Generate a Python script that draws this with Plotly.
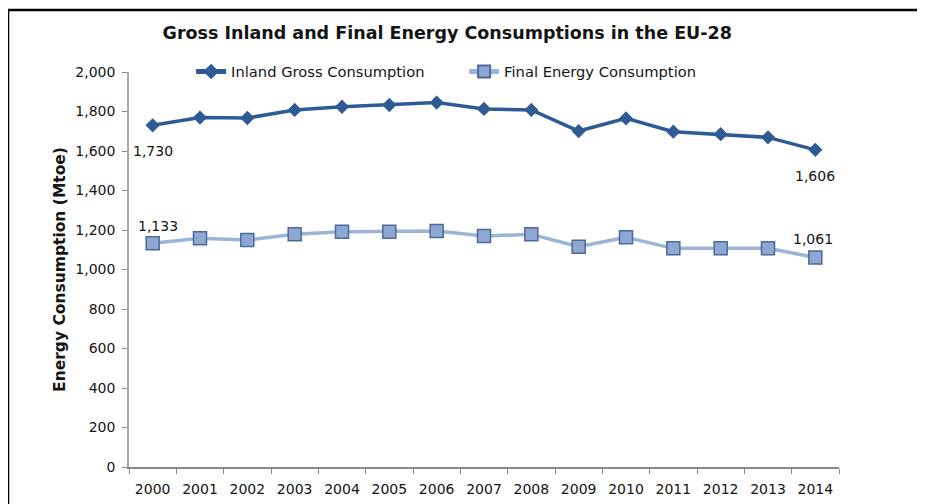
import plotly.graph_objects as go

years = [str(y) for y in range(2000, 2015)]
inland_gross = [1730, 1769, 1767, 1808, 1824, 1833, 1845, 1813, 1808, 1701, 1765, 1698, 1685, 1669, 1606]
final_energy = [1133, 1158, 1149, 1178, 1191, 1191, 1195, 1170, 1178, 1115, 1163, 1107, 1107, 1107, 1061]
y_ticks = list(range(0, 2001, 200))

FONT = "DejaVu Sans"
TXT = "#141414"

fig = go.Figure()
fig.add_trace(go.Scatter(
    x=years, y=inland_gross, name="Inland Gross Consumption", mode="lines+markers",
    line=dict(color="#2f5b95", width=3.5),
    marker=dict(symbol="diamond", size=11, color="#2f5b95"),
))
fig.add_trace(go.Scatter(
    x=years, y=final_energy, name="Final Energy Consumption", mode="lines+markers",
    line=dict(color="#9bb4d8", width=3.5),
    marker=dict(symbol="square", size=13, color="#8ea8d2", line=dict(color="#4a6a9c", width=1.5)),
))

# end-point labels (x given as category index)
last = len(years) - 1
labels = [
    (0, inland_gross[0], 0, -26),
    (last, inland_gross[-1], 0, -26),
    (0, final_energy[0], 5, 17),
    (last, final_energy[-1], -2, 18),
]
for x, y, dx, dy in labels:
    fig.add_annotation(x=x, y=y, text=f"{y:,}", showarrow=False, xshift=dx, yshift=dy,
                       font=dict(family=FONT, size=14, color=TXT))

# page body adds an 8px offset, so the figure is 8px smaller and margins shifted
fig.update_layout(
    width=917, height=496,
    margin=dict(l=121, r=86, t=64, b=37),
    paper_bgcolor="white", plot_bgcolor="white",
    font=dict(family=FONT, size=14, color=TXT),
    title=dict(text="<b>Gross Inland and Final Energy Consumptions in the EU-28</b>",
               x=0.479, xanchor="center", y=0.95, yanchor="middle",
               font=dict(family=FONT, size=17.5, color=TXT)),
    legend=dict(orientation="h", x=0.472, xanchor="center", y=1.0, yanchor="middle",
                font=dict(family=FONT, size=14.7, color=TXT), bgcolor="rgba(0,0,0,0)",
                itemwidth=30, entrywidth=228, itemsizing="constant"),
    showlegend=True,
    xaxis=dict(type="category", range=[-0.5, 14.5], tickson="boundaries", ticks="outside",
               ticklen=5, tickangle=0, ticklabelstandoff=8, automargin=False,
               tickcolor="#888", showline=True, linecolor="#888", linewidth=2,
               showgrid=False, tickfont=dict(family=FONT, size=14, color=TXT)),
    yaxis=dict(range=[0, 2000], tickvals=y_ticks, tickformat=",", ticks="outside", ticklen=5,
               ticklabelstandoff=4, automargin=False,
               tickcolor="#888", showline=True, linecolor="#aaa", linewidth=1.5,
               showgrid=False, zeroline=False,
               tickfont=dict(family=FONT, size=14, color=TXT),
               title=dict(text="<b>Energy Consumption (Mtoe)</b>", standoff=6,
                          font=dict(family=FONT, size=15.5, color=TXT))),
    shapes=[
        dict(type="line", xref="paper", yref="paper", x0=-0.1704, x1=1.2, y0=1.157, y1=1.157,
             line=dict(color="black", width=2.5)),
        dict(type="line", xref="paper", yref="paper", x0=-0.1704, x1=-0.1704, y0=-0.2, y1=1.157,
             line=dict(color="black", width=2.5)),
    ],
)

fig.write_html("out.html")
